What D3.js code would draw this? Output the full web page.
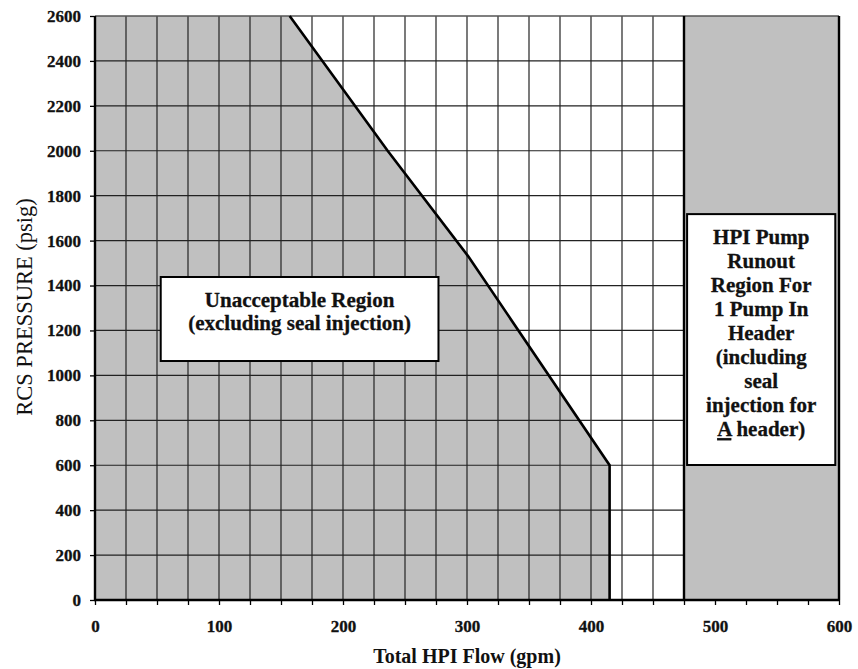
<!DOCTYPE html>
<html>
<head>
<meta charset="utf-8">
<script src="https://cdn.jsdelivr.net/npm/d3@7"></script>
<style>
	body { margin: 0; background: #fff; }
	svg text { font-family: 'Liberation Serif', 'Times New Roman', serif; fill: #111; }
</style>
</head>
<body>
<script>
const w = 858,
	h = 669;

// tick labels
const xTickValues = [0, 25, 50, 75, 100, 125, 150, 175, 200, 225, 250, 275, 300, 325, 350, 375, 400, 425, 450, 475, 500, 525, 550, 575, 600];
const xLabelValues = [0, 100, 200, 300, 400, 500, 600];
const yTickValues = [0, 200, 400, 600, 800, 1000, 1200, 1400, 1600, 1800, 2000, 2200, 2400, 2600];

// grid inside the acceptable part (runout region has none)
const gridFlow = [25, 50, 75, 100, 125, 150, 175, 200, 225, 250, 275, 300, 325, 350, 375, 400, 425, 450];
const gridPressure = [200, 400, 600, 800, 1000, 1200, 1400, 1600, 1800, 2000, 2200, 2400];

// limit curve of the unacceptable region (gpm / psig)
const limitFlow = [157, 236, 301, 415, 415];
const limitPressure = [2600, 2000, 1530, 600, 0];

// runout region starts here (gpm)
const runoutFlow = 475;

const unacceptableText = ['Unacceptable Region', '(excluding seal injection)'];
const runoutText = ['HPI Pump', 'Runout', 'Region For', '1 Pump In', 'Header', '(including', 'seal', 'injection for', 'A header)'];

const svg = d3.select('body')
	.append('svg')
	.attr('width', w)
	.attr('height', h);

const x = d3.scaleLinear().domain([0, 600]).range([95, 839]);
const y = d3.scaleLinear().domain([0, 2600]).range([600, 16]);

//unacceptable region polygon
const limitPts = limitFlow.map((f, i) => [f, limitPressure[i]]);
const polyPts = [[0, 0], [0, 2600]].concat(limitPts);
svg.append('path')
	.attr('d', d3.line().x(d => x(d[0])).y(d => y(d[1]))(polyPts) + 'Z')
	.attr('fill', '#c0c0c0');

//runout region
svg.append('rect')
	.attr('x', x(runoutFlow))
	.attr('y', y(2600))
	.attr('width', x(600) - x(runoutFlow))
	.attr('height', y(0) - y(2600))
	.attr('fill', '#c0c0c0');

//grid
svg.append('g')
	.selectAll('line')
	.data(gridFlow)
	.enter()
	.append('line')
	.attr('x1', d => x(d)).attr('x2', d => x(d))
	.attr('y1', y(0)).attr('y2', y(2600))
	.attr('stroke', '#222')
	.attr('stroke-width', 1.2);

svg.append('g')
	.selectAll('line')
	.data(gridPressure)
	.enter()
	.append('line')
	.attr('x1', x(0)).attr('x2', x(runoutFlow))
	.attr('y1', d => y(d)).attr('y2', d => y(d))
	.attr('stroke', '#222')
	.attr('stroke-width', 1.2);

//top border
svg.append('line')
	.attr('x1', x(0)).attr('x2', x(600))
	.attr('y1', y(2600)).attr('y2', y(2600))
	.attr('stroke', '#555')
	.attr('stroke-width', 1.5);

//limit line
svg.append('path')
	.attr('d', d3.line().x(d => x(d[0])).y(d => y(d[1]))(limitPts))
	.attr('fill', 'none')
	.attr('stroke', '#000')
	.attr('stroke-width', 2.6);

//runout boundary + right border
[runoutFlow, 600].forEach(f => {
	svg.append('line')
		.attr('x1', x(f)).attr('x2', x(f))
		.attr('y1', y(0)).attr('y2', y(2600))
		.attr('stroke', '#000')
		.attr('stroke-width', 2.4);
});

//axes
const xAxis = d3.axisBottom(x)
	.tickValues(xTickValues)
	.tickSize(5)
	.tickPadding(15)
	.tickFormat(d => xLabelValues.includes(d) ? d : '');
const yAxis = d3.axisLeft(y)
	.tickValues(yTickValues)
	.tickSize(5)
	.tickPadding(9)
	.tickFormat(d3.format('d'));

const gx = svg.append('g').attr('transform', `translate(0,${y(0)})`).call(xAxis);
const gy = svg.append('g').attr('transform', `translate(${x(0)},0)`).call(yAxis);
[gx, gy].forEach(g => {
	g.select('.domain').remove();
	g.selectAll('.tick line').attr('stroke', '#000').attr('stroke-width', 1.3);
	g.selectAll('.tick text')
		.attr('font-size', 17)
		.attr('font-weight', 'bold')
		.attr('font-family', null)
		.attr('stroke', '#111')
		.attr('stroke-width', 0.3);
});

//thick left and bottom axis lines
svg.append('line')
	.attr('x1', x(0)).attr('x2', x(0))
	.attr('y1', y(0) + 1).attr('y2', y(2600))
	.attr('stroke', '#000').attr('stroke-width', 2.4);
svg.append('line')
	.attr('x1', x(0) - 1).attr('x2', x(600) + 1)
	.attr('y1', y(0)).attr('y2', y(0))
	.attr('stroke', '#000').attr('stroke-width', 2.4);

//axis titles
svg.append('text')
	.attr('x', 467)
	.attr('y', 663)
	.attr('text-anchor', 'middle')
	.attr('font-size', 20)
	.attr('font-weight', 'bold')
	.text('Total HPI Flow (gpm)');

svg.append('text')
	.attr('transform', 'translate(32,307) rotate(-90)')
	.attr('text-anchor', 'middle')
	.attr('font-size', 22.5)
	.text('RCS PRESSURE (psig)');

//annotation boxes
function labelBox(x0, x1, y0, y1, lines, firstY, step) {
	svg.append('rect')
		.attr('x', x(x0)).attr('y', y(y1))
		.attr('width', x(x1) - x(x0))
		.attr('height', y(y0) - y(y1))
		.attr('fill', '#fff')
		.attr('stroke', '#000')
		.attr('stroke-width', 2);
	const cx = (x(x0) + x(x1)) / 2;
	const t = svg.append('text')
		.attr('text-anchor', 'middle')
		.attr('font-size', 21)
		.attr('font-weight', 'bold')
		.attr('stroke', '#111')
		.attr('stroke-width', 0.3);
	lines.forEach((l, i) => {
		const ts = t.append('tspan')
			.attr('x', cx)
			.attr('y', y(y1) + firstY + i * step);
		if (l === 'A header)') {
			ts.append('tspan').attr('text-decoration', 'underline').text('A');
			ts.append('tspan').text(' header)');
		} else {
			ts.text(l);
		}
	});
}

labelBox(53, 277, 1064, 1438, unacceptableText, 30, 23);
labelBox(477.5, 597, 601, 1718, runoutText, 30, 24);
</script>
</body>
</html>
